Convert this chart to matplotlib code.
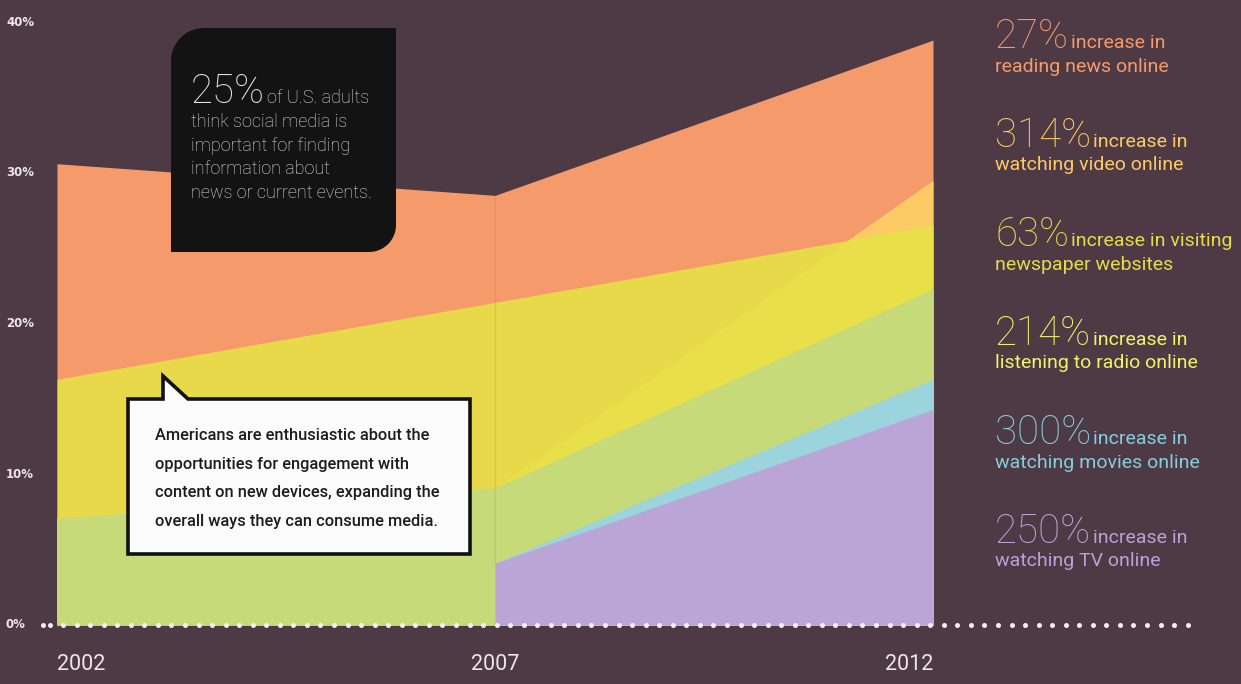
import numpy as np
import matplotlib
matplotlib.use("Agg")
import matplotlib.pyplot as plt
import matplotlib.transforms as mtransforms
from matplotlib.path import Path
from matplotlib.patches import PathPatch

# share of U.S. adults doing each activity (%)
years = [2002, 2007, 2012]
news = [30.6, 28.5, 38.8]          # reading news online
video = [7.1, 9.1, 29.5]           # watching video online
newspaper = [16.3, 21.4, 26.5]     # visiting newspaper websites
radio = [7.1, 9.1, 22.3]           # listening to radio online
movies = [np.nan, 4.1, 16.3]       # watching movies online
tv = [np.nan, 4.1, 14.3]           # watching TV online

y_ticks = [0, 10, 20, 30, 40]
y_labels = ["0%", "10%", "20%", "30%", "40%"]
year_labels = ["2002", "2007", "2012"]

increase_big = ["27%", "314%", "63%", "214%", "300%", "250%"]
increase_first = ["increase in", "increase in", "increase in visiting",
                  "increase in", "increase in", "increase in"]
increase_second = ["reading news online", "watching video online",
                   "newspaper websites", "listening to radio online",
                   "watching movies online", "watching TV online"]

# colours
bg = "#4e3a44"
c_news = "#f59b6b"
c_video = "#fdca66"
c_paper = "#e8d94b"
c_mix = "#e9df48"
c_radio = "#c6da7a"
c_movies = "#9bd4dd"
c_tv = "#bba5d7"
text_cols = ["#f59b6b", "#fdca66", "#e5dc4c", "#eef56a", "#86cde0", "#b9a2d8"]

W, H = 1241, 684
font = ["Roboto", "DejaVu Sans"]

fig = plt.figure(figsize=(W / 100, H / 100), dpi=100, facecolor=bg)

# main plot area: 2002 -> x=57px, 2012 -> x=933px, 0% -> y=625px, 40% -> y=22px
ax = fig.add_axes([57 / W, (H - 625) / H, 876 / W, 603 / H])
ax.set_xlim(2002, 2012)
ax.set_ylim(0, 40)
ax.axis("off")
ax.patch.set_visible(False)

ax.fill_between(years, 0, news, color=c_news, lw=0)
ax.fill_between(years, 0, video, color=c_video, lw=0)
paper = ax.fill_between(years, 0, newspaper, color=c_paper, lw=0)
mix = ax.fill_between(years, 0, video, color=c_mix, lw=0)
mix.set_clip_path(paper.get_paths()[0], ax.transData)
ax.fill_between(years, 0, radio, color=c_radio, lw=0)
ax.fill_between(years, 0, movies, color=c_movies, lw=0)
ax.fill_between(years, 0, tv, color=c_tv, lw=0)
# faint seam at the middle year
ax.plot([years[1], years[1]], [tv[1], news[1]], color="#000000", alpha=0.07, lw=1)

# overlay in pixel coordinates for annotations
ov = fig.add_axes([0, 0, 1, 1], zorder=5)
ov.set_xlim(0, W)
ov.set_ylim(H, 0)
ov.axis("off")
ov.patch.set_visible(False)

# y tick labels
ytr = mtransforms.blended_transform_factory(ov.transData, ax.transData)
for v, lab in zip(y_ticks, y_labels):
    ov.text(6, v, lab, transform=ytr, ha="left", va="center",
            fontsize=8.5, fontweight="bold", color="#ece6ea")

# year labels
xtr = mtransforms.blended_transform_factory(ax.transData, ov.transData)
for yr, lab, ha in zip(years, year_labels, ["left", "center", "right"]):
    ov.text(yr, 664, lab, transform=xtr, ha=ha, va="center",
            fontsize=15.5, family=font, color="#ece6ea")

# dotted baseline
dots_x = np.r_[43, np.arange(49.5, 1190, 13.55)]
base_tr = mtransforms.blended_transform_factory(ov.transData, ax.transData)
ov.plot(dots_x, np.zeros_like(dots_x), "o", ms=3.6, color="#f4f0f2",
        mec="none", transform=base_tr, clip_on=False)


def rounded_box(x0, y0, x1, y1, r_tl, r_br, n=20):
    # square corners except top-left and bottom-right
    pts = []
    t = np.linspace(np.pi, 1.5 * np.pi, n)
    pts += list(zip(x0 + r_tl + r_tl * np.cos(t), y0 + r_tl + r_tl * np.sin(t)))
    pts.append((x1, y0))
    t = np.linspace(0, 0.5 * np.pi, n)
    pts += list(zip(x1 - r_br + r_br * np.cos(t), y1 - r_br + r_br * np.sin(t)))
    pts.append((x0, y1))
    pts.append(pts[0])
    codes = [Path.MOVETO] + [Path.LINETO] * (len(pts) - 2) + [Path.CLOSEPOLY]
    return Path(pts, codes)


renderer = fig.canvas.get_renderer()

# dark call-out box
box_col = "#131313"
ov.add_patch(PathPatch(rounded_box(171, 28, 396, 252, 33, 27),
                       facecolor=box_col, edgecolor="none"))
big_box = ov.text(191, 103, "25%", fontsize=29, family=font, fontweight="light",
                  color="#e2e2e2", va="baseline")
bb = big_box.get_window_extent(renderer)
ov.text(bb.x1 + 2, 103, "of U.S. adults", fontsize=13, family=font,
        fontweight="light", color="#e2e2e2", va="baseline")
for i, line in enumerate(["think social media is", "important for finding",
                          "information about", "news or current events."]):
    ov.text(191, 127 + i * 23.6, line, fontsize=13, family=font,
            fontweight="light", color="#e2e2e2", va="baseline")

# speech bubble
bub = [(128, 399), (163, 399), (163, 376), (188, 399), (470, 399),
       (470, 554), (128, 554), (128, 399)]
bub_codes = [Path.MOVETO] + [Path.LINETO] * 6 + [Path.CLOSEPOLY]
ov.add_patch(PathPatch(Path(bub, bub_codes), facecolor="#fbfbfb",
                       edgecolor="#111111", lw=2.6, joinstyle="miter"))
for i, line in enumerate(["Americans are enthusiastic about the",
                          "opportunities for engagement with",
                          "content on new devices, expanding the",
                          "overall ways they can consume media."]):
    ov.text(155, 440 + i * 28.7, line, fontsize=11.8, family=font,
            fontweight="medium", color="#1c1c1c", va="baseline")

# right-hand increase labels
for i in range(len(increase_big)):
    base = 48 + i * 99
    col = text_cols[i]
    t = ov.text(995, base, increase_big[i], fontsize=29, family=font,
                fontweight="light", color=col, va="baseline")
    bb = t.get_window_extent(renderer)
    ov.text(bb.x1 + 2, base, increase_first[i], fontsize=14, family=font,
            color=col, va="baseline")
    ov.text(995, base + 23.5, increase_second[i], fontsize=14, family=font,
            color=col, va="baseline")

fig.savefig("out.png", dpi=100, facecolor=bg)
